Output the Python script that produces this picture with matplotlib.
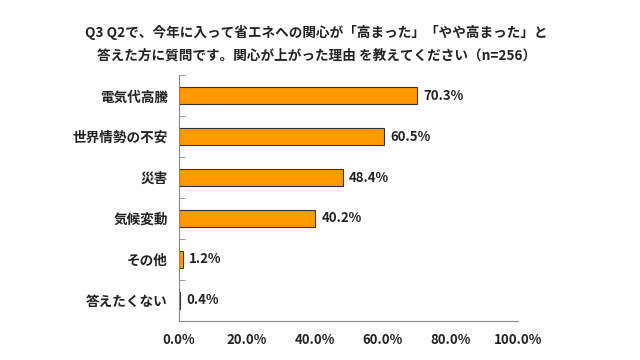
import matplotlib
matplotlib.use("Agg")
import matplotlib.pyplot as plt
import numpy as np

categories = ["電気代高騰", "世界情勢の不安", "災害", "気候変動", "その他", "答えたくない"]
values = [70.3, 60.5, 48.4, 40.2, 1.2, 0.4]
xticks = [0, 20, 40, 60, 80, 100]
title = "Q3 Q2で、今年に入って省エネへの関心が「高まった」「やや高まった」と\n答えた方に質問です。関心が上がった理由 を教えてください（n=256）"

plt.rcParams['font.family'] = ['Noto Sans CJK JP', 'DejaVu Sans']

fig = plt.figure(figsize=(6.4, 3.6), dpi=100)
ax = fig.add_axes([0.2797, 0.1097, 0.5297, 0.6806])

y = np.arange(len(categories))
ax.barh(y, values, height=0.42, color="#FF9900", edgecolor="#333333", linewidth=0.8)
for yi, v in zip(y, values):
    ax.text(v + 1.8, yi, f"{v:.1f}%", va="center", ha="left", fontsize=9.5, fontweight="bold", color="#222222")

ax.set_ylim(len(categories) - 0.5, -0.5)
ax.set_xlim(0, 100)
ax.set_yticks(y)
ax.set_yticklabels(categories, fontsize=9.8, fontweight="bold", color="#222222")
ax.set_yticks(np.arange(-0.5, len(categories) + 0.5, 1.0), minor=True)
ax.tick_params(axis="y", which="major", length=0, pad=8)
ax.tick_params(axis="y", which="minor", length=4, direction="in", color="#888888")
ax.set_xticks(xticks)
ax.set_xticklabels([f"{t:.1f}%" for t in xticks], fontsize=9.5, fontweight="bold", color="#222222")
ax.tick_params(axis="x", length=0, pad=9)

for s in ["top", "right"]:
    ax.spines[s].set_visible(False)
for s in ["left", "bottom"]:
    ax.spines[s].set_color("#888888")
    ax.spines[s].set_linewidth(0.8)

fig.text(0.494, 0.878, title, ha="center", va="center", fontsize=9.8, fontweight="bold", color="#222222", linespacing=1.85)

fig.savefig("out.png", dpi=100)
